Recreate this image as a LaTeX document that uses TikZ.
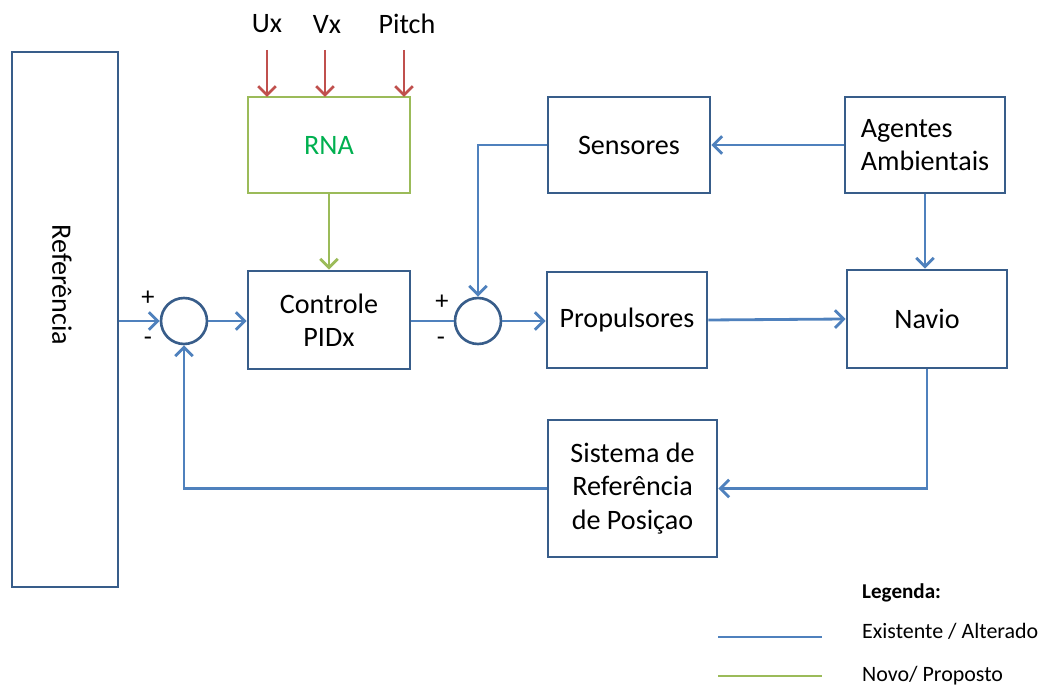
\documentclass[tikz,border=0pt]{standalone}
\usepackage{fontspec}
\setmainfont{Carlito}
\usetikzlibrary{arrows.meta}
\definecolor{LineBlue}{RGB}{79, 129, 189}
\definecolor{BoxBlue}{RGB}{56, 93, 138}
\definecolor{NewGreen}{RGB}{155, 187, 89}
\definecolor{TextGreen}{RGB}{0, 176, 80}
\definecolor{InRed}{RGB}{192, 80, 77}

\begin{document}
\begin{tikzpicture}[x=0.02cm, y=-0.02cm,
          box/.style={draw=BoxBlue, line width=1.5pt, fill=white, align=center,
                      font=\fontsize{16}{19}\selectfont, inner sep=0pt},
          sum/.style={draw=BoxBlue, line width=1.5pt, circle, minimum size=0.92cm, inner sep=0pt},
          arr/.style={-{Straight Barb[length=5pt, width=10pt]}, line width=1.6pt, LineBlue},
          conn/.style={line width=1.6pt, LineBlue},
          sign/.style={font=\fontsize{15}{17}\selectfont}
        ]
        \useasboundingbox (0,0) rectangle (1039,685);

        % blocks
        \node[box, minimum width=2.12cm, minimum height=10.7cm] (ref) at (65,319.5) {};
        \node[font=\fontsize{16}{19}\selectfont, rotate=-90] (reftxt) at (62,285) {Referência};
        \node[box, draw=NewGreen, text=TextGreen, minimum width=3.24cm, minimum height=1.92cm]
              (rna) at (329,145) {RNA};
        \node[box, minimum width=3.24cm, minimum height=1.96cm] (pid) at (329,320) {Controle\\PIDx};
        \node[box, minimum width=3.24cm, minimum height=1.92cm] (sens) at (629,145) {Sensores};
        \node[box, minimum width=3.2cm, minimum height=1.92cm, align=left] (agent) at (925,145)
              {Agentes\\Ambientais};
        \node[box, minimum width=3.2cm, minimum height=1.92cm] (prop) at (627,320) {Propulsores};
        \node[box, minimum width=3.2cm, minimum height=1.96cm] (navio) at (927,319) {Navio};
        \node[box, minimum width=3.38cm, minimum height=2.74cm] (srp) at (632.5,488.5)
              {Sistema de\\Referência\\de Posiçao};

        % summing junctions
        \node[sum] (sum1) at (184,321) {};
        \node[sum] (sum2) at (478,321) {};
        \node[sign] (p1) at (148,298) {+};
        \node[sign] (m1) at (148,341) {-};
        \node[sign] (p2) at (442,302) {+};
        \node[sign] (m2) at (441,341) {-};

        % network inputs
        \node[font=\fontsize{16}{19}\selectfont] (ux) at (267,24) {Ux};
        \node[font=\fontsize{16}{19}\selectfont] (vx) at (327,24) {Vx};
        \node[font=\fontsize{16}{19}\selectfont] (pitch) at (407,24) {Pitch};
        \coordinate (uxin) at (267,97);
        \coordinate (vxin) at (325,97);
        \coordinate (pitchin) at (404,97);
        \draw[arr, InRed] (267,50) -- (uxin);
        \draw[arr, InRed] (325,50) -- (vxin);
        \draw[arr, InRed] (404,50) -- (pitchin);

        % forward path
        \draw[arr] (ref.east |- sum1) -- (sum1.west);
        \draw[arr] (sum1.east) -- (pid.west |- sum1);
        \draw[conn] (pid.east |- sum2) -- (sum2.west);
        \draw[arr] (sum2.east) -- (prop.west |- sum2);
        \draw[arr] (prop.east) -- (navio.west);
        \draw[arr, NewGreen] (rna.south) -- (pid.north);

        % disturbances and sensors
        \draw[arr] (agent.south) -- (agent.south |- navio.north);
        \draw[arr] (agent.west) -- (sens.east);
        \draw[arr] (sens.west) -| (sum2.north);

        % feedback
        \draw[arr] (navio.south) |- (srp.east);
        \draw[arr] (srp.west) -| (sum1.south);

        % legend
        \node[font=\bfseries\fontsize{12}{14}\selectfont, anchor=west] (leg) at (856,593) {Legenda:};
        \node[font=\fontsize{12.5}{15}\selectfont, anchor=west] (legold) at (856,631) {Existente / Alterado};
        \node[font=\fontsize{12.5}{15}\selectfont, anchor=west] (legnew) at (856,676) {Novo/ Proposto};
        \coordinate (oldA) at (718,637);
        \coordinate (oldB) at (822,637);
        \coordinate (newA) at (718,676);
        \coordinate (newB) at (822,676);
        \draw[conn] (oldA) -- (oldB);
        \draw[conn, NewGreen] (newA) -- (newB);
      \end{tikzpicture}
\end{document}
